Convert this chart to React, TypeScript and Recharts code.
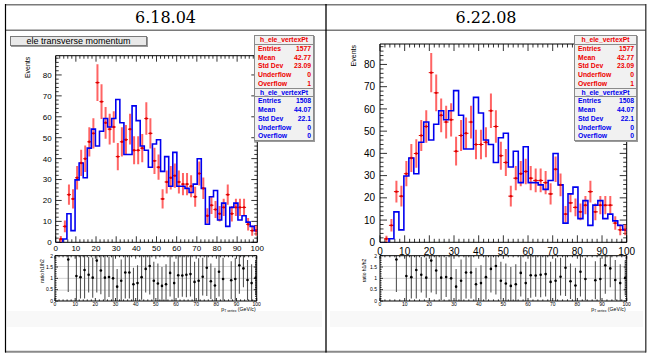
import React from 'react';
import { ComposedChart, Line, Scatter, ErrorBar, XAxis, YAxis, ReferenceLine } from 'recharts';

// ---------------- DATA ----------------
const versions = ['6.18.04', '6.22.08'];
const histTitle = 'ele transverse momentum';
const histName = 'h_ele_vertexPt';
const binWidth = 2;
const binCenters = [1, 3, 5, 7, 9, 11, 13, 15, 17, 19, 21, 23, 25, 27, 29, 31, 33, 35, 37, 39, 41, 43, 45, 47, 49,
  51, 53, 55, 57, 59, 61, 63, 65, 67, 69, 71, 73, 75, 77, 79, 81, 83, 85, 87, 89, 91, 93, 95, 97, 99];
// reference histogram (blue, h2)
const blueCounts = [0, 0, 2, 14, 6, 30, 38, 31, 45, 54, 46, 53, 59, 55, 59, 68, 57, 42, 42, 65, 58, 46, 44, 36, 47,
  49, 34, 41, 27, 43, 27, 27, 26, 24, 28, 40, 26, 9, 22, 25, 11, 19, 8, 17, 19, 11, 13, 10, 8, 6];
// new histogram (red points, h1)
const redCounts = [0, 2, 8, 23, 21, 31, 38, 40, 48, 52, 76, 67, 57, 54, 55, 41, 48, 49, 54, 44, 44, 45, 59, 52, 39,
  36, 21, 29, 31, 32, 29, 28, 28, 27, 22, 33, 26, 13, 18, 16, 14, 17, 23, 14, 17, 17, 17, 9, 6, 6];
const redErrors = [0, 1.4, 2.8, 4.8, 4.6, 5.6, 6.2, 6.3, 6.9, 7.2, 8.7, 8.2, 7.5, 7.3, 7.4, 6.4, 6.9, 7.0, 7.3, 6.6,
  6.6, 6.7, 7.7, 7.2, 6.2, 6.0, 4.6, 5.4, 5.6, 5.7, 5.4, 5.3, 5.3, 5.2, 4.7, 5.7, 5.1, 3.6, 4.2, 4.0, 3.7, 4.1, 4.8,
  3.7, 4.1, 4.1, 4.1, 3.0, 2.4, 2.4];
// ratio h1/h2
const ratioX = [7, 11, 13, 15, 17, 19, 21, 23, 25, 27, 29, 31, 33, 35, 37, 39, 41, 43, 45, 47, 49, 51, 53, 55, 57,
  59, 61, 63, 65, 67, 69, 71, 73, 75, 77, 79, 81, 83, 87, 89, 91, 93, 95, 97, 99];
const ratioVal = [1.8, 1.1, 1.05, 1.35, 1.15, 1.03, 1.75, 1.33, 1.03, 1.06, 1.0, 0.65, 0.9, 1.25, 1.25, 0.75, 0.8,
  1.05, 1.4, 1.52, 0.9, 0.78, 0.68, 0.75, 1.23, 0.8, 1.13, 1.12, 1.15, 1.18, 0.85, 0.9, 1.07, 1.45, 0.88, 0.7, 1.28,
  0.97, 0.92, 0.97, 1.55, 1.42, 0.93, 0.8, 1.02];
const ratioErr = [1.38, 1.05, 0.9, 1.2, 0.75, 0.85, 1.35, 1.0, 0.95, 0.85, 0.95, 0.75, 0.9, 1.1, 1.1, 0.7, 0.75,
  0.95, 1.0, 1.2, 0.8, 0.85, 0.8, 0.85, 1.0, 0.9, 0.95, 0.9, 0.95, 0.95, 0.85, 0.95, 0.8, 1.2, 0.75, 0.75, 1.05,
  0.9, 0.8, 0.9, 1.2, 0.8, 0.85, 0.8, 0.75];
const statLabels = ['Entries', 'Mean', 'Std Dev', 'Underflow', 'Overflow'];
const redStats = ['1577', '42.77', '23.09', '0', '1'];
const blueStats = ['1508', '44.07', '22.1', '0', '0'];
const yTitle = 'Events';
const ratioTitle = 'ratio h1/h2';
const mainYMax = 89.2;
const ratioYMax = 2;
const ratioGrid = [0.5, 1, 1.5];

// tick values (2-unit minor divisions, 10-unit majors)
const mainXTicks = Array.from({ length: 51 }, (_, i) => i * 2);
const mainYTicks = Array.from({ length: 45 }, (_, i) => i * 2);
const ratioYTicks = Array.from({ length: 21 }, (_, i) => i / 10);

// derived tables
const blueSteps = [
  ...binCenters.map((c, i) => ({ x: c - binWidth / 2, y: blueCounts[i] })),
  { x: binCenters[binCenters.length - 1] + binWidth / 2, y: blueCounts[blueCounts.length - 1] },
];
const redPoints = binCenters
  .map((c, i) => ({ x: c, y: redCounts[i], e: redErrors[i], xe: binWidth / 2 }))
  .filter((p) => p.y > 0);
const ratioPoints = ratioX.map((x, i) => ({ x, y: ratioVal[i], e: ratioErr[i] }));

// ---------------- LAYOUT ----------------
const W = 651;
const H = 354;
const FONT = '"Liberation Sans", Arial, Helvetica, sans-serif';

type Frame = { l: number; r: number; t: number; b: number };
type Sty = { font: number; major: number; minor: number; xDy: number; yDx: number };

const near = (v: number, step: number) => Math.abs(v / step - Math.round(v / step)) < 1e-6;
const fmt = (v: number) => String(Math.round(v * 100) / 100);

function xTick(side: 'bottom' | 'top', s: Sty, majorStep: number, labels: boolean) {
  return (p: any) => {
    const { x, y, payload } = p;
    const v = payload.value;
    const maj = near(v, majorStep);
    const len = maj ? s.major : s.minor;
    const d = side === 'bottom' ? -1 : 1;
    return (
      <g>
        <line x1={x} x2={x} y1={y} y2={y + d * len} stroke="#000" strokeWidth={0.8} />
        {labels && maj ? (
          <text x={x} y={y + s.xDy} textAnchor="middle" fontSize={s.font} fontFamily={FONT} fill="#000">
            {fmt(v)}
          </text>
        ) : null}
      </g>
    );
  };
}

function yTick(side: 'left' | 'right', s: Sty, majorStep: number, labels: boolean) {
  return (p: any) => {
    const { x, y, payload } = p;
    const v = payload.value;
    const maj = near(v, majorStep);
    const len = maj ? s.major : s.minor;
    const d = side === 'left' ? 1 : -1;
    return (
      <g>
        <line x1={x} x2={x + d * len} y1={y} y2={y} stroke="#000" strokeWidth={0.8} />
        {labels && maj ? (
          <text x={x + s.yDx} y={y + s.font * 0.36} textAnchor="end" fontSize={s.font} fontFamily={FONT} fill="#000">
            {fmt(v)}
          </text>
        ) : null}
      </g>
    );
  };
}

const axisCommon = {
  type: 'number' as const,
  allowDataOverflow: true,
  interval: 0 as const,
  tickSize: 0,
  tickMargin: 0,
  tickLine: false,
  axisLine: { stroke: '#000', strokeWidth: 1 },
};

const chartMargin = (f: Frame) => ({ left: f.l - 1, top: f.t - 1, right: W - f.r - 1, bottom: H - f.b - 1 });
const clipStyle = (f: Frame): React.CSSProperties => ({
  position: 'absolute', left: 0, top: 0, width: W, height: H,
  clipPath: `inset(${f.t}px ${W - f.r}px ${H - f.b}px ${f.l}px)`,
});

function FrameAxes({ s, xTicks, yTicks, yMax, yMajor }: any) {
  return [
    <XAxis key="xb" xAxisId="b" dataKey="x" domain={[0, 100]} ticks={xTicks} height={1} {...axisCommon}
      tick={xTick('bottom', s, 10, true)} />,
    <XAxis key="xt" xAxisId="t" orientation="top" dataKey="x" domain={[0, 100]} ticks={xTicks} height={1} {...axisCommon}
      tick={xTick('top', s, 10, false)} />,
    <YAxis key="yl" yAxisId="l" domain={[0, yMax]} ticks={yTicks} width={1} {...axisCommon}
      tick={yTick('left', s, yMajor, true)} />,
    <YAxis key="yr" yAxisId="r" orientation="right" domain={[0, yMax]} ticks={yTicks} width={1} {...axisCommon}
      tick={yTick('right', s, yMajor, false)} />,
  ];
}

function MainPanel({ f, s }: { f: Frame; s: Sty }) {
  return (
    <>
      <div style={{ position: 'absolute', left: 0, top: 0 }}>
        <ComposedChart width={W} height={H} margin={chartMargin(f)}>
          {FrameAxes({ s, xTicks: mainXTicks, yTicks: mainYTicks, yMax: mainYMax, yMajor: 10 })}
        </ComposedChart>
      </div>
      <div style={clipStyle(f)}>
        <ComposedChart width={W} height={H} margin={chartMargin(f)}>
          <XAxis xAxisId="b" dataKey="x" domain={[0, 100]} height={1} {...axisCommon} hide />
          <YAxis yAxisId="l" domain={[0, mainYMax]} width={1} {...axisCommon} hide />
          <Scatter xAxisId="b" yAxisId="l" data={redPoints} dataKey="y" isAnimationActive={false}
            shape={(p: any) => <circle cx={p.cx} cy={p.cy} r={1.2} fill="#e00000" />}>
            <ErrorBar dataKey="e" direction="y" width={0} stroke="#ff3030" strokeOpacity={0.75} strokeWidth={2} />
            <ErrorBar dataKey="xe" direction="x" width={0} stroke="#e00000" strokeWidth={1} />
          </Scatter>
          <Line xAxisId="b" yAxisId="l" data={blueSteps} dataKey="y" type="stepAfter" stroke="#0000f0"
            strokeWidth={1.6} dot={false} isAnimationActive={false} />
        </ComposedChart>
      </div>
    </>
  );
}

function RatioPanel({ f, s }: { f: Frame; s: Sty }) {
  return (
    <>
      <div style={clipStyle(f)}>
        <ComposedChart width={W} height={H} margin={chartMargin(f)}>
          <XAxis xAxisId="b" dataKey="x" domain={[0, 100]} height={1} {...axisCommon} hide />
          <YAxis yAxisId="l" domain={[0, ratioYMax]} width={1} {...axisCommon} hide />
          {ratioGrid.map((g) => (
            <ReferenceLine key={g} xAxisId="b" yAxisId="l" y={g} stroke="#c8c8c8" strokeWidth={0.8} />
          ))}
          <Scatter xAxisId="b" yAxisId="l" data={ratioPoints} dataKey="y" isAnimationActive={false}
            shape={(p: any) => <circle cx={p.cx} cy={p.cy} r={1.3} fill="#000" />}>
            <ErrorBar dataKey="e" direction="y" width={0} stroke="#555" strokeWidth={1.1} />
          </Scatter>
        </ComposedChart>
      </div>
      <div style={{ position: 'absolute', left: 0, top: 0 }}>
        <ComposedChart width={W} height={H} margin={chartMargin(f)}>
          {FrameAxes({ s, xTicks: mainXTicks, yTicks: ratioYTicks, yMax: ratioYMax, yMajor: 0.5 })}
        </ComposedChart>
      </div>
    </>
  );
}

function StatsBox({ x, y, w, rowH, color, values, fs }: any) {
  return (
    <div style={{
      position: 'absolute', left: x, top: y, width: w, height: rowH * 6 + 1, background: '#f1f1f1',
      border: '1px solid #8a8a8a', boxSizing: 'border-box', color, fontFamily: FONT, fontWeight: 'bold',
      fontSize: fs, boxShadow: '1px 1px 0 #9a9a9a',
    }}>
      <div style={{ height: rowH, lineHeight: rowH + 'px', textAlign: 'center', borderBottom: '1px solid #8a8a8a', boxSizing: 'border-box' }}>
        {histName}
      </div>
      {statLabels.map((k, i) => (
        <div key={k} style={{ display: 'flex', justifyContent: 'space-between', height: rowH, lineHeight: rowH + 'px', padding: '0 2px 0 3px' }}>
          <span>{k}</span>
          <span>{values[i]}</span>
        </div>
      ))}
    </div>
  );
}

const cells = [
  {
    cx: 165.5,
    main: { l: 55.7, r: 257.3, t: 55.7, b: 242.3 },
    ratio: { l: 55, r: 256.7, t: 255.7, b: 301 },
    mainSty: { font: 8, major: 6, minor: 3, xDy: 9, yDx: -4 },
    ratioSty: { font: 5, major: 3, minor: 1.6, xDy: 5, yDx: -2 },
    stats: { x: 254, w: 60 },
    events: { x: 29.5, y: 56.7 },
    rTitle: { x: 44, y: 271 },
    fade: { x: 7, w: 315 },
  },
  {
    cx: 486,
    main: { l: 380, r: 626.7, t: 44, b: 242.3 },
    ratio: { l: 380, r: 626.7, t: 255.7, b: 301 },
    mainSty: { font: 10, major: 7, minor: 3.5, xDy: 12.5, yDx: -5 },
    ratioSty: { font: 5, major: 3, minor: 1.6, xDy: 5, yDx: -3 },
    stats: { x: 574, w: 63 },
    events: { x: 355.5, y: 45 },
    rTitle: { x: 366, y: 270.5 },
    fade: { x: 330, w: 313 },
  },
];

export default function App() {
  return (
    <div style={{ position: 'absolute', left: 0, top: 0, width: W, height: H, background: '#fff', overflow: 'hidden' }}>
      <svg width={W} height={H} style={{ position: 'absolute', left: 0, top: 0 }}>
        {cells.map((c, i) => (
          <rect key={'f' + i} x={c.fade.x} y={311} width={c.fade.w} height={16} fill="#f8f8f8" />
        ))}
      </svg>
      {cells.map((c, i) => (
        <React.Fragment key={i}>
          <MainPanel f={c.main} s={c.mainSty} />
          <RatioPanel f={c.ratio} s={c.ratioSty} />
        </React.Fragment>
      ))}
      <svg width={W} height={H} style={{ position: 'absolute', left: 0, top: 0 }}>
        <line x1={5} x2={646} y1={4.8} y2={4.8} stroke="#7a7a7a" strokeWidth={1.6} />
        <line x1={5} x2={646} y1={30.3} y2={30.3} stroke="#7a7a7a" strokeWidth={1.6} />
        <line x1={5} x2={646} y1={351.7} y2={351.7} stroke="#8a8a8a" strokeWidth={2} />
        <line x1={5.5} x2={5.5} y1={4} y2={352.5} stroke="#000" strokeWidth={1.2} />
        <line x1={326} x2={326} y1={4} y2={352.5} stroke="#000" strokeWidth={1.3} />
        <line x1={645.8} x2={645.8} y1={4} y2={352.5} stroke="#333" strokeWidth={1.3} />
        {cells.map((c, i) => (
          <g key={i}>
            <text x={c.cx} y={22.7} textAnchor="middle" fontFamily='"DejaVu Serif", serif' fontSize={16} fill="#000">
              {versions[i]}
            </text>
            <text transform={`translate(${c.events.x},${c.events.y}) rotate(-90)`} textAnchor="end"
              fontFamily={FONT} fontSize={7} fill="#000">{yTitle}</text>
            <text transform={`translate(${c.rTitle.x},${c.rTitle.y}) rotate(-90)`} textAnchor="middle"
              fontFamily={FONT} fontSize={5} fill="#000">{ratioTitle}</text>
            <text x={c.ratio.r - 1} y={311} textAnchor="end" fontFamily={FONT} fontSize={5.2} fill="#000">
              p<tspan fontSize={3.4} dy={1.3}>T vertex</tspan><tspan dy={-1.3} fontSize={5.2}>{' (GeV/c)'}</tspan>
            </text>
          </g>
        ))}
      </svg>
      <div style={{
        position: 'absolute', left: 10, top: 35.7, width: 137, height: 10.5, background: '#e9e9e9',
        border: '1px solid #7a7a7a', boxSizing: 'border-box', boxShadow: '1px 1px 0 #9a9a9a',
        fontFamily: FONT, fontSize: 9, lineHeight: '9px', textAlign: 'center', color: '#000',
      }}>{histTitle}</div>
      {cells.map((c, i) => (
        <React.Fragment key={'s' + i}>
          <StatsBox x={c.stats.x} y={35} w={c.stats.w} rowH={8.75} color="#ee0000" values={redStats} fs={6.8} />
          <StatsBox x={c.stats.x} y={87.5} w={c.stats.w} rowH={8.75} color="#0000ee" values={blueStats} fs={6.8} />
        </React.Fragment>
      ))}
    </div>
  );
}
